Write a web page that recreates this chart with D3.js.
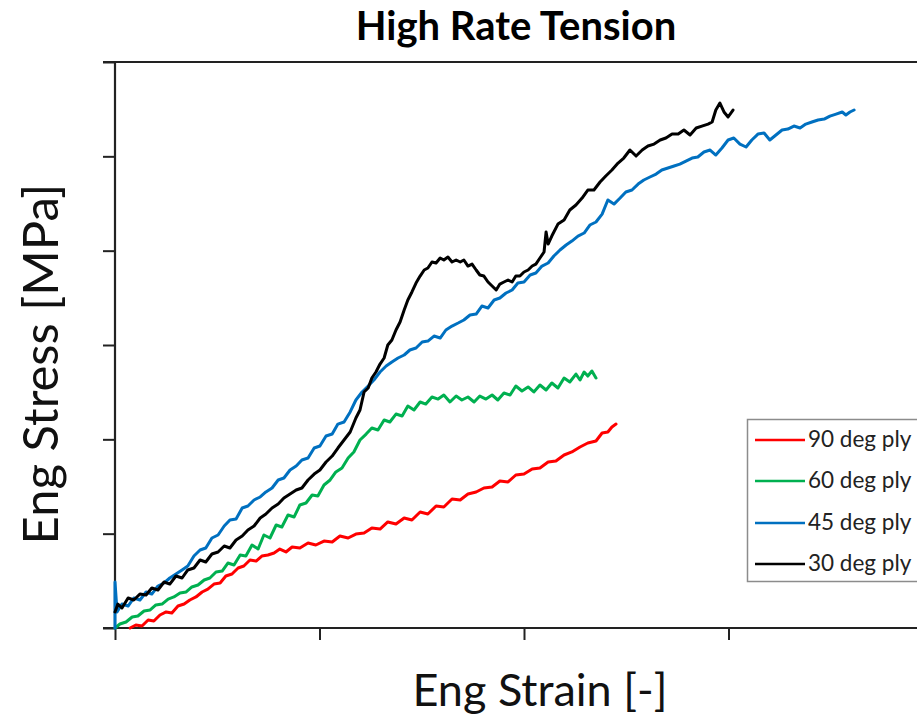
<!DOCTYPE html>
<html>
<head>
<meta charset="utf-8">
<script src="https://cdn.jsdelivr.net/npm/d3@7"></script>
<style>
  html, body { margin: 0; padding: 0; background: #fff; }
  svg { display: block; }
</style>
</head>
<body>
<div id="chart"></div>
<script>
// ---- Data (strain in %, stress in MPa) ----
const seriesNames = ["90 deg ply", "60 deg ply", "45 deg ply", "30 deg ply"];
const seriesColors = ["#ff0000", "#00b050", "#0070c0", "#000000"];

const xTicks = [0, 5, 10, 15];
const yTicks = [0, 100, 200, 300, 400, 500, 600];

const ply90 = [
  [0.37,0],[0.51,3.2],[0.66,2.1],[0.81,8.5],[0.95,7.4],[1.10,13.8],[1.25,17.0],[1.39,15.9],
  [1.54,23.3],[1.69,25.4],[1.83,29.7],[1.98,32.9],[2.13,38.2],[2.27,41.3],[2.42,46.6],[2.57,47.7],
  [2.71,55.1],[2.86,57.2],[3.01,63.6],[3.15,65.7],[3.30,72.1],[3.45,71.0],[3.59,76.3],[3.74,77.4],
  [3.89,79.5],[4.03,83.7],[4.18,80.6],[4.33,85.9],[4.52,84.8],[4.72,90.1],[4.91,88.0],[5.11,92.2],
  [5.31,91.2],[5.50,97.5],[5.70,95.4],[5.89,99.6],[6.09,100.7],[6.28,106.0],[6.48,104.9],[6.67,112.4],
  [6.87,110.2],[7.07,116.6],[7.26,114.5],[7.46,123.0],[7.65,120.8],[7.85,129.3],[8.04,128.3],[8.24,136.7],
  [8.44,135.7],[8.63,142.0],[8.83,144.2],[9.02,148.4],[9.22,149.5],[9.41,155.8],[9.61,154.8],[9.80,162.2],
  [10.00,163.2],[10.20,168.5],[10.39,169.6],[10.59,176.0],[10.78,177.0],[10.98,183.4],[11.17,186.6],[11.37,191.9],
  [11.56,196.1],[11.76,198.2],[11.91,206.7],[12.05,207.8],[12.15,213.1],[12.25,216.2]
];

const ply60 = [
  [0,0],[0.12,4.2],[0.27,6.4],[0.42,11.7],[0.56,12.7],[0.71,18.0],[0.86,19.1],[1.00,24.4],
  [1.15,25.4],[1.30,30.7],[1.44,32.9],[1.59,37.1],[1.74,38.2],[1.88,43.5],[2.03,45.6],[2.18,50.9],
  [2.32,53.0],[2.47,59.4],[2.62,60.4],[2.76,68.9],[2.91,66.8],[3.06,77.4],[3.20,76.3],[3.35,88.0],
  [3.50,83.7],[3.64,98.6],[3.79,95.4],[3.94,109.2],[4.08,107.1],[4.23,119.8],[4.38,117.7],[4.52,130.4],
  [4.67,132.5],[4.82,141.0],[4.96,139.9],[5.11,151.6],[5.26,156.9],[5.40,165.4],[5.55,169.6],[5.70,180.2],
  [5.84,186.6],[5.99,199.3],[6.14,205.6],[6.28,212.0],[6.43,209.9],[6.58,220.5],[6.72,218.4],[6.87,226.8],
  [7.02,224.7],[7.16,235.3],[7.31,231.1],[7.46,239.6],[7.60,237.4],[7.75,244.9],[7.90,242.7],[8.04,247.0],
  [8.19,239.6],[8.34,245.9],[8.48,241.7],[8.63,244.9],[8.78,239.6],[8.92,245.9],[9.07,242.7],[9.22,247.0],
  [9.36,241.7],[9.51,249.1],[9.66,247.0],[9.80,256.5],[9.95,251.2],[10.10,255.5],[10.24,250.2],[10.39,257.6],
  [10.54,252.3],[10.68,259.7],[10.83,254.4],[10.98,265.0],[11.12,260.8],[11.27,269.2],[11.37,262.9],[11.47,271.4],
  [11.56,267.1],[11.66,272.4],[11.76,265.0]
];

const ply45 = [
  [0,0],[0,48.8],[0.05,17.0],[0.17,25.4],[0.32,23.3],[0.46,31.8],[0.61,29.7],[0.76,38.2],
  [0.90,36.0],[1.05,44.5],[1.20,47.7],[1.34,53.0],[1.49,57.2],[1.64,61.5],[1.78,65.7],[1.93,76.3],
  [2.08,82.7],[2.22,84.8],[2.37,95.4],[2.52,98.6],[2.67,108.1],[2.81,114.5],[2.96,115.5],[3.11,127.2],
  [3.25,129.3],[3.40,135.7],[3.55,138.9],[3.69,144.2],[3.84,148.4],[3.99,156.9],[4.13,159.0],[4.28,167.5],
  [4.43,171.7],[4.57,178.1],[4.72,180.2],[4.87,190.8],[5.01,192.9],[5.16,203.5],[5.31,205.6],[5.45,216.2],
  [5.60,218.4],[5.75,229.0],[5.89,241.7],[6.04,250.2],[6.19,256.5],[6.33,262.9],[6.48,271.4],[6.63,277.7],
  [6.77,282.0],[6.92,286.2],[7.07,289.4],[7.21,294.7],[7.36,296.8],[7.51,303.2],[7.65,304.2],[7.80,309.5],
  [7.95,307.4],[8.09,315.9],[8.24,320.1],[8.39,323.3],[8.53,326.5],[8.68,331.8],[8.83,332.8],[8.97,341.3],
  [9.12,339.2],[9.27,347.7],[9.41,349.8],[9.56,355.1],[9.71,358.3],[9.85,365.7],[10.00,366.8],[10.15,374.2],
  [10.29,376.3],[10.44,383.7],[10.59,386.9],[10.73,394.3],[10.88,400.7],[11.03,406.0],[11.17,410.2],[11.32,415.5],
  [11.47,418.7],[11.61,427.2],[11.76,430.4],[11.91,438.8],[12.05,453.7],[12.20,449.4],[12.35,455.8],[12.49,462.2],
  [12.64,464.3],[12.79,470.6],[12.93,474.9],[13.08,478.1],[13.23,481.2],[13.37,485.5],[13.52,487.6],[13.67,489.7],
  [13.81,491.8],[13.96,495.0],[14.11,498.2],[14.25,499.3],[14.40,504.6],[14.55,506.7],[14.69,501.4],[14.84,508.8],
  [14.99,517.3],[15.13,519.4],[15.28,513.0],[15.43,509.9],[15.57,517.3],[15.72,523.6],[15.87,524.7],[16.01,517.3],
  [16.16,522.6],[16.31,527.9],[16.45,528.9],[16.60,532.1],[16.75,530.0],[16.89,534.2],[17.04,536.4],[17.19,538.5],
  [17.34,539.5],[17.48,542.7],[17.63,544.8],[17.78,547.0],[17.87,543.8],[17.97,547.0],[18.07,549.1]
];

const ply30 = [
  [0,17.0],[0.07,25.4],[0.17,21.2],[0.32,31.8],[0.46,29.7],[0.61,36.0],[0.76,35.0],[0.90,42.4],
  [1.05,40.3],[1.20,48.8],[1.34,46.6],[1.49,55.1],[1.64,53.0],[1.78,61.5],[1.93,63.6],[2.08,72.1],
  [2.22,70.0],[2.37,78.4],[2.52,80.6],[2.67,86.9],[2.81,84.8],[2.96,93.3],[3.11,97.5],[3.25,103.9],
  [3.40,108.1],[3.55,116.6],[3.69,120.8],[3.84,127.2],[3.99,131.4],[4.13,137.8],[4.28,142.0],[4.43,146.3],
  [4.57,148.4],[4.72,156.9],[4.87,163.2],[5.01,167.5],[5.16,176.0],[5.31,182.3],[5.45,190.8],[5.60,199.3],
  [5.75,207.8],[5.89,222.6],[5.99,231.1],[6.09,250.2],[6.19,254.4],[6.28,265.0],[6.38,271.4],[6.48,279.8],
  [6.58,286.2],[6.67,300.0],[6.77,305.3],[6.87,315.9],[6.97,324.4],[7.07,337.1],[7.16,347.7],[7.26,356.2],
  [7.36,365.7],[7.46,373.1],[7.56,379.5],[7.65,381.6],[7.75,388.0],[7.85,386.9],[7.95,392.2],[8.04,390.1],
  [8.14,393.3],[8.24,388.0],[8.34,390.1],[8.44,388.0],[8.53,390.1],[8.63,383.7],[8.73,385.8],[8.83,379.5],
  [8.92,374.2],[9.02,373.1],[9.12,366.8],[9.22,362.5],[9.32,358.3],[9.41,364.6],[9.51,366.8],[9.61,368.9],
  [9.71,366.8],[9.80,373.1],[9.90,373.1],[10.00,377.4],[10.10,379.5],[10.20,383.7],[10.29,385.8],[10.39,392.2],
  [10.49,398.6],[10.54,419.8],[10.59,407.0],[10.68,415.5],[10.83,428.2],[10.98,432.5],[11.12,443.1],[11.27,448.4],
  [11.42,455.8],[11.56,464.3],[11.71,464.3],[11.86,472.8],[12.00,479.2],[12.15,485.5],[12.30,492.9],[12.44,498.2],
  [12.59,506.7],[12.74,500.3],[12.89,506.7],[13.03,510.9],[13.18,513.0],[13.33,517.3],[13.47,519.4],[13.62,523.6],
  [13.77,523.6],[13.91,527.9],[14.06,522.6],[14.21,530.0],[14.35,532.1],[14.50,534.2],[14.60,536.4],[14.69,549.1],
  [14.79,556.5],[14.89,547.0],[14.99,541.7],[15.11,549.1]
];

const seriesData = [ply90, ply60, ply45, ply30];

// ---- Layout ----
const W = 917, H = 719;
const margin = { left: 115, top: 62, bottom: 91 };
const font = "Lato, 'Open Sans', 'Noto Sans', sans-serif";

const svg = d3.select("#chart").append("svg")
  .attr("width", W).attr("height", H);

const x = d3.scaleLinear().domain([0, 20]).range([margin.left, margin.left + 20 * 40.9]);
const y = d3.scaleLinear().domain([0, 600]).range([H - margin.bottom, margin.top]);

// Axes
const axisColor = "#222";
const yAxis = svg.append("g")
  .attr("transform", `translate(${margin.left},0)`)
  .call(d3.axisLeft(y).tickValues(yTicks).tickSize(12).tickFormat(""));
const xAxis = svg.append("g")
  .attr("transform", `translate(0,${y(0)})`)
  .call(d3.axisBottom(x).tickValues(xTicks).tickSize(12).tickFormat(""));
[yAxis, xAxis].forEach(g => {
  g.selectAll("path.domain").remove();
  g.selectAll("line").attr("stroke", axisColor).attr("stroke-width", 2);
});
svg.append("line").attr("x1", x(0)).attr("x2", x(0)).attr("y1", y(600)).attr("y2", y(0))
  .attr("stroke", axisColor).attr("stroke-width", 2.2);
svg.append("line").attr("x1", x(0) - 12).attr("x2", W).attr("y1", y(0)).attr("y2", y(0))
  .attr("stroke", axisColor).attr("stroke-width", 2.2);
svg.append("line").attr("x1", x(0) - 12).attr("x2", W).attr("y1", y(600)).attr("y2", y(600))
  .attr("stroke", axisColor).attr("stroke-width", 2.2);

// Lines
const line = d3.line().x(d => x(d[0])).y(d => y(d[1])).curve(d3.curveLinear);
svg.append("g").selectAll("path")
  .data(seriesData)
  .join("path")
  .attr("d", line)
  .attr("fill", "none")
  .attr("stroke", (d, i) => seriesColors[i])
  .attr("stroke-width", 3)
  .attr("stroke-linejoin", "round")
  .attr("stroke-linecap", "round");

// Title
svg.append("text")
  .attr("x", 516).attr("y", 40)
  .attr("text-anchor", "middle")
  .attr("font-family", font).attr("font-weight", "bold")
  .attr("font-size", 40)
  .text("High Rate Tension");

// Axis titles
svg.append("text")
  .attr("x", 540).attr("y", 706)
  .attr("text-anchor", "middle")
  .attr("font-family", font).attr("font-size", 45)
  .attr("fill", "#111")
  .text("Eng Strain [-]");
svg.append("text")
  .attr("transform", "translate(58,364) rotate(-90)")
  .attr("text-anchor", "middle")
  .attr("font-family", font).attr("font-size", 49)
  .attr("fill", "#111")
  .text("Eng Stress [MPa]");

// Legend
const lg = svg.append("g");
lg.append("rect")
  .attr("x", 747.5).attr("y", 419.5).attr("width", 200).attr("height", 162)
  .attr("fill", "#fff").attr("stroke", "#8c8c8c").attr("stroke-width", 1.5);
const legendRows = [440, 481, 523, 564];
seriesNames.forEach((name, i) => {
  lg.append("line")
    .attr("x1", 755).attr("x2", 805)
    .attr("y1", legendRows[i]).attr("y2", legendRows[i])
    .attr("stroke", seriesColors[i]).attr("stroke-width", 2.6);
  lg.append("text")
    .attr("x", 808).attr("y", legendRows[i] + 7)
    .attr("font-family", font).attr("font-size", 22.5)
    .attr("fill", "#222")
    .text(name);
});
</script>
</body>
</html>
